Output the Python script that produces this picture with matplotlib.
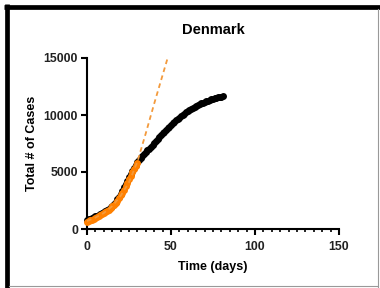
import matplotlib
matplotlib.use("Agg")
import matplotlib.pyplot as plt
from matplotlib.lines import Line2D
from matplotlib.ticker import MultipleLocator

title = "Denmark"
xlabel = "Time (days)"
ylabel = "Total # of Cases"
xticks = [0, 50, 100, 150]
yticks = [0, 5000, 10000, 15000]

black_days = list(range(0, 82))
black_cases = [780, 850, 920, 990, 1050, 1110, 1170, 1230, 1300, 1380,
               1460, 1550, 1650, 1770, 1900, 2050, 2220, 2410, 2620, 2850,
               3100, 3370, 3650, 3940, 4240, 4540, 4840, 5120, 5390, 5630,
               5850, 6030, 6210, 6380, 6550, 6720, 6890, 7060, 7230, 7400,
               7570, 7740, 7900, 8060, 8220, 8380, 8540, 8690, 8840, 8980,
               9120, 9260, 9390, 9520, 9650, 9770, 9890, 10010, 10120, 10230,
               10340, 10440, 10540, 10630, 10720, 10800, 10880, 10950, 11020, 11090,
               11150, 11210, 11270, 11320, 11370, 11420, 11460, 11500, 11540, 11580,
               11620, 11660]

orange_days = list(range(0, 31))
orange_cases = [620, 680, 750, 820, 890, 960, 1030, 1110, 1190, 1280,
                1380, 1480, 1590, 1710, 1840, 1980, 2140, 2310, 2500, 2710,
                2940, 3190, 3460, 3750, 4050, 4360, 4670, 4980, 5270, 5540,
                5780]

fit_days = [0, 5, 10, 15, 20, 25, 30, 35, 40, 45, 48]
fit_cases = [700, 1000, 1400, 2000, 2900, 4100, 5900, 8400, 11000, 13500, 15000]

W, H = 380, 288
fig = plt.figure(figsize=(W / 100, H / 100), dpi=100)
fig.patch.set_facecolor("white")

# frame around figure
fig.add_artist(Line2D([6.7 / W, 6.7 / W], [0, 1 - 4.3 / H], color="black", lw=3.4,
                      transform=fig.transFigure, solid_capstyle="butt"))
fig.add_artist(Line2D([4.3 / W, 1], [1 - 6.7 / H, 1 - 6.7 / H], color="black", lw=3.4,
                      transform=fig.transFigure, solid_capstyle="butt"))
fig.add_artist(Line2D([377.5 / W, 377.5 / W], [0, 1 - 9 / H], color="#999999", lw=0.8,
                      transform=fig.transFigure))
fig.add_artist(Line2D([9 / W, 377.5 / W], [1 - 285.5 / H, 1 - 285.5 / H], color="#999999", lw=0.8,
                      transform=fig.transFigure))

ax = fig.add_axes([87 / W, (H - 229) / H, 252 / W, 171 / H])
ax.set_xlim(0, 150)
ax.set_ylim(0, 15000)

ax.plot(black_days, black_cases, "o", color="black", ms=5.0, mec="black", mew=0, clip_on=False, zorder=3)
ax.plot(orange_days, orange_cases, "o", color="#ff8000", ms=5.0, mew=0, clip_on=False, zorder=4)
ax.plot(fit_days, fit_cases, linestyle=(0, (2.6, 2.0)), color="#f39a3c", lw=1.3, zorder=5)

for s in ["top", "right"]:
    ax.spines[s].set_visible(False)
for s in ["left", "bottom"]:
    ax.spines[s].set_linewidth(1.5)

ax.set_xticks(xticks)
ax.set_yticks(yticks)
ax.xaxis.set_minor_locator(MultipleLocator(5))
ax.tick_params(axis="both", which="major", direction="out", length=4.5, width=1.5,
               labelsize=8.8, pad=2)
ax.tick_params(axis="x", which="major", pad=4)
ax.tick_params(axis="x", which="minor", direction="out", length=2.5, width=1.2)
for lab in ax.get_xticklabels() + ax.get_yticklabels():
    lab.set_fontfamily("Liberation Sans")
    lab.set_fontweight("bold")
    lab.set_color("#222222")

ax.set_title(title, fontsize=10.5, fontweight="bold", family="Liberation Sans", pad=17)
ax.set_xlabel(xlabel, fontsize=9, fontweight="bold", family="Liberation Sans", labelpad=6)
ax.set_ylabel(ylabel, fontsize=9, fontweight="bold", family="Liberation Sans", labelpad=4)

fig.savefig("out.png", dpi=100)
